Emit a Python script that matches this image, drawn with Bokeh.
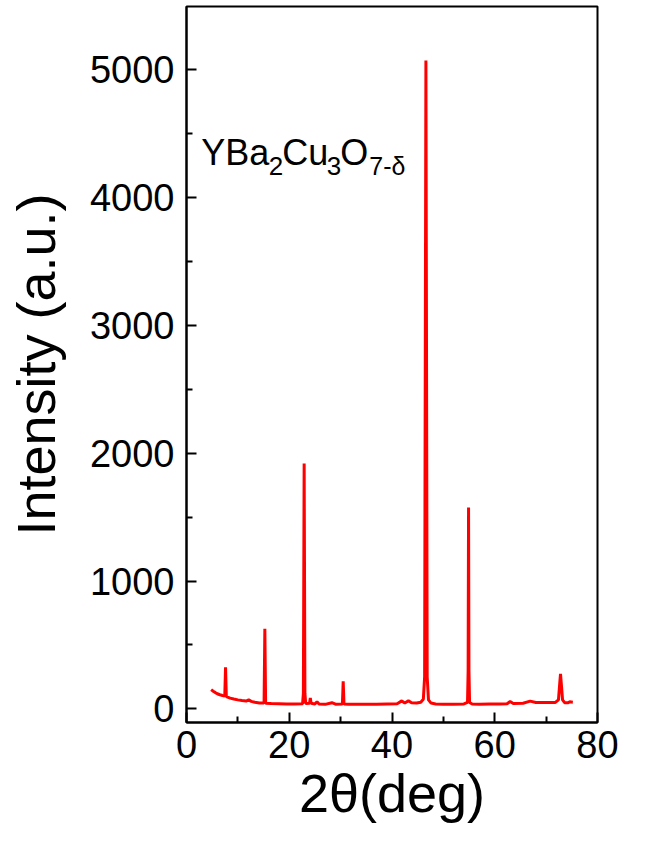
from bokeh.plotting import figure
from bokeh.models import Range1d, Label, FixedTicker
from bokeh.embed import file_html
from bokeh.resources import INLINE

# XRD pattern (2theta in degrees, intensity a.u.)
two_theta = [4.8, 5.2, 5.6, 6.0, 6.5, 7.0, 7.45, 7.6, 7.75, 8.5, 9.2, 10.0, 10.8, 11.6, 12.1, 12.6,
             13.3, 14.2, 15.1, 15.25, 15.4, 16.5, 18.0, 19.5, 21.0, 22.6, 22.75, 22.9, 23.05, 23.2,
             23.95, 24.1, 24.25, 25.0, 25.4, 25.8, 27.0, 28.3, 29.0, 30.35, 30.5, 30.65, 31.5, 33.0,
             35.0, 37.0, 39.0, 41.0, 41.9, 42.5, 43.2, 43.8, 44.8, 45.6, 46.1, 46.35, 46.6, 46.85,
             47.1, 47.6, 48.5, 50.0, 52.0, 54.0, 54.7, 54.82, 54.9, 54.98, 55.1, 55.6, 57.0, 59.0,
             61.0, 62.4, 63.0, 63.6, 65.5, 66.9, 68.0, 70.0, 71.8, 72.4, 72.65, 72.8, 72.95, 73.2,
             73.6, 74.2, 74.6, 75.2]
intensity = [150, 138, 127, 118, 110, 104, 100, 325, 96, 84, 77, 70, 65, 61, 70, 58,
             51, 46, 45, 626, 44, 42, 40, 38, 37, 40, 120, 1919, 120, 42,
             44, 84, 43, 38, 55, 37, 35, 48, 36, 38, 216, 38, 36, 35,
             36, 36, 38, 40, 62, 45, 64, 48, 45, 52, 75, 250, 5073, 250,
             70, 45, 38, 36, 36, 38, 50, 300, 1575, 300, 50, 38, 36, 37,
             38, 40, 57, 42, 44, 60, 50, 49, 50, 70, 200, 274, 200, 70,
             48, 47, 55, 52]

x_ticks = [0, 20, 40, 60, 80]
x_minor = [10, 30, 50, 70]
y_ticks = [0, 1000, 2000, 3000, 4000, 5000]
y_minor = [500, 1500, 2500, 3500, 4500]

FONT = "Liberation Sans"

p = figure(width=631, height=838, output_backend="svg", toolbar_location=None,
           x_range=Range1d(0, 80), y_range=Range1d(-107, 5495),
           min_border_left=186, min_border_right=34, min_border_top=6,
           min_border_bottom=116)

p.line(two_theta, intensity, line_color="#ff0000", line_width=3.0)

p.xgrid.visible = False
p.ygrid.visible = False
p.outline_line_color = "black"
p.outline_line_width = 2
p.outline_line_alpha = 1.0

p.xaxis.ticker = FixedTicker(ticks=x_ticks, minor_ticks=x_minor)
p.yaxis.ticker = FixedTicker(ticks=y_ticks, minor_ticks=y_minor)

for ax in (p.xaxis, p.yaxis):
    ax.axis_line_width = 2
    ax.axis_line_color = "black"
    ax.major_tick_in = 10
    ax.major_tick_out = 0
    ax.minor_tick_in = 6
    ax.minor_tick_out = 0
    ax.major_tick_line_width = 2
    ax.minor_tick_line_width = 2
    ax.major_tick_line_color = "black"
    ax.minor_tick_line_color = "black"
    ax.major_label_text_font = FONT
    ax.major_label_text_font_size = "38px"
    ax.major_label_text_color = "black"
    ax.axis_label_text_font = FONT
    ax.axis_label_text_font_size = "54px"
    ax.axis_label_text_font_style = "normal"
    ax.axis_label_text_color = "black"

p.xaxis.axis_label = "2θ(deg)"
p.yaxis.axis_label = "Intensity (a.u.)"
p.xaxis.major_label_standoff = 8
p.xaxis.axis_label_standoff = 2
p.yaxis.major_label_standoff = 12
p.yaxis.axis_label_standoff = 21

# Formula annotation YBa2Cu3O7-δ built from pieces (main text and subscripts)
pieces = [("YBa", 2.86, 4355, "36px"), ("2", 16.01, 4247, "26px"),
          ("Cu", 18.64, 4355, "36px"), ("3", 27.30, 4247, "26px"),
          ("O", 29.93, 4355, "36px"), ("7-δ", 35.58, 4247, "25px")]
for txt, xx, yy, fs in pieces:
    p.add_layout(Label(x=xx, y=yy, text=txt, text_font=FONT, text_font_size=fs,
                       text_baseline="alphabetic", text_align="left", text_color="black"))

open("out.html", "w").write(file_html(p, INLINE))
